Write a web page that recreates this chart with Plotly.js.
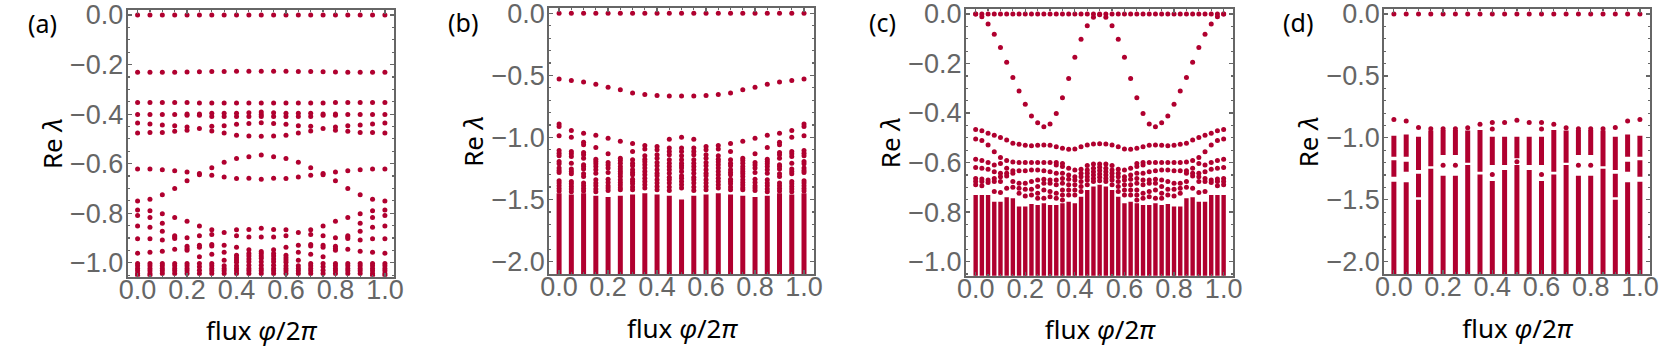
<!DOCTYPE html>
<html>
<head>
<meta charset="utf-8">
<script src="https://cdn.plot.ly/plotly-3.0.1.min.js"></script>
<style>html,body{margin:0;padding:0;background:#fff;}#plot{width:1661px;height:354px;}</style>
</head>
<body>
<div id="plot"></div>
<script>
// ---------- flux values ----------
const flux21 = [0,0.05,0.1,0.15,0.2,0.25,0.3,0.35,0.4,0.45,0.5,0.55,0.6,0.65,0.7,0.75,0.8,0.85,0.9,0.95,1];
const flux41 = [0,0.025,0.05,0.075,0.1,0.125,0.15,0.175,0.2,0.225,0.25,0.275,0.3,0.325,0.35,0.375,0.4,0.425,0.45,0.475,0.5,0.525,0.55,0.575,0.6,0.625,0.65,0.675,0.7,0.725,0.75,0.775,0.8,0.825,0.85,0.875,0.9,0.925,0.95,0.975,1];

// ---------- panel (a) ----------
const a_row0 = [0,0,0,0,0,0,0,0,0,0,0,0,0,0,0,0,0,0,0,0,0];
const a_row1 = [-0.231,-0.231,-0.231,-0.231,-0.23,-0.229,-0.228,-0.228,-0.227,-0.227,-0.227,-0.227,-0.227,-0.228,-0.228,-0.229,-0.23,-0.231,-0.231,-0.231,-0.231];
const a_cols = [
 [-0.353,-0.402,-0.436,-0.476,-0.621,-0.751,-0.787,-0.809,-0.851,-0.903,-0.961,-1.003,-1.012,-1.023,-1.032,-1.043,-1.05],
 [-0.353,-0.402,-0.44,-0.474,-0.621,-0.744,-0.79,-0.817,-0.856,-0.903,-0.957,-1.003,-1.012,-1.023,-1.032,-1.043,-1.05],
 [-0.353,-0.402,-0.444,-0.474,-0.625,-0.725,-0.802,-0.84,-0.873,-0.908,-0.953,-1.003,-1.012,-1.023,-1.032,-1.043],
 [-0.353,-0.402,-0.447,-0.469,-0.629,-0.7,-0.817,-0.891,-0.896,-0.902,-0.945,-1.003,-1.012,-1.023,-1.032,-1.043],
 [-0.353,-0.4,-0.405,-0.452,-0.465,-0.634,-0.669,-0.832,-0.899,-0.933,-0.942,-0.949,-1.003,-1.012,-1.023,-1.032,-1.043],
 [-0.355,-0.4,-0.405,-0.458,-0.64,-0.645,-0.851,-0.891,-0.929,-0.937,-0.976,-1.003,-1.016,-1.03,-1.043],
 [-0.355,-0.397,-0.41,-0.449,-0.468,-0.616,-0.647,-0.867,-0.886,-0.926,-0.932,-0.965,-1.003,-1.012,-1.023,-1.032,-1.043],
 [-0.355,-0.397,-0.41,-0.447,-0.476,-0.594,-0.654,-0.878,-0.929,-0.957,-0.99,-1.012,-1.023,-1.032,-1.043],
 [-0.355,-0.397,-0.41,-0.441,-0.485,-0.579,-0.66,-0.867,-0.891,-0.937,-0.969,-0.98,-0.989,-0.998,-1.012,-1.023,-1.032,-1.043],
 [-0.355,-0.395,-0.41,-0.438,-0.488,-0.572,-0.659,-0.866,-0.896,-0.947,-0.962,-0.972,-0.985,-0.996,-1.01,-1.023,-1.032,-1.043],
 [-0.355,-0.392,-0.402,-0.41,-0.435,-0.489,-0.565,-0.663,-0.861,-0.896,-0.954,-0.962,-0.972,-0.982,-0.996,-1.01,-1.023,-1.032,-1.043],
 [-0.355,-0.395,-0.41,-0.438,-0.488,-0.572,-0.659,-0.866,-0.896,-0.947,-0.962,-0.972,-0.985,-0.996,-1.01,-1.023,-1.032,-1.043],
 [-0.355,-0.397,-0.41,-0.441,-0.485,-0.579,-0.66,-0.867,-0.891,-0.937,-0.969,-0.98,-0.989,-0.998,-1.012,-1.023,-1.032,-1.043],
 [-0.355,-0.397,-0.41,-0.447,-0.476,-0.594,-0.654,-0.878,-0.929,-0.957,-0.99,-1.012,-1.023,-1.032,-1.043],
 [-0.355,-0.397,-0.41,-0.449,-0.468,-0.616,-0.647,-0.867,-0.886,-0.926,-0.932,-0.965,-1.003,-1.012,-1.023,-1.032,-1.043],
 [-0.355,-0.4,-0.405,-0.458,-0.64,-0.645,-0.851,-0.891,-0.929,-0.937,-0.976,-1.003,-1.016,-1.03,-1.043],
 [-0.353,-0.4,-0.405,-0.452,-0.465,-0.634,-0.669,-0.832,-0.899,-0.933,-0.942,-0.949,-1.003,-1.012,-1.023,-1.032,-1.043],
 [-0.353,-0.402,-0.447,-0.469,-0.629,-0.7,-0.817,-0.891,-0.896,-0.902,-0.945,-1.003,-1.012,-1.023,-1.032,-1.043],
 [-0.353,-0.402,-0.444,-0.474,-0.625,-0.725,-0.802,-0.84,-0.873,-0.908,-0.953,-1.003,-1.012,-1.023,-1.032,-1.043],
 [-0.353,-0.402,-0.44,-0.474,-0.621,-0.744,-0.79,-0.817,-0.856,-0.903,-0.957,-1.003,-1.012,-1.023,-1.032,-1.043,-1.05],
 [-0.353,-0.402,-0.436,-0.476,-0.621,-0.751,-0.787,-0.809,-0.851,-0.903,-0.961,-1.003,-1.012,-1.023,-1.032,-1.043,-1.05]
];

// ---------- panel (b) ----------
const b_row0 = [0,0,0,0,0,0,0,0,0,0,0,0,0,0,0,0,0,0,0,0,0];
const b_row1 = [-0.529,-0.542,-0.553,-0.572,-0.596,-0.617,-0.642,-0.655,-0.663,-0.666,-0.666,-0.666,-0.663,-0.655,-0.642,-0.617,-0.596,-0.572,-0.553,-0.542,-0.529];
const b_cols = [
 [-0.891,-0.912,-0.987,-1.105,-1.127,-1.148,-1.194,-1.212,-1.247,-1.266,-1.282,-1.349,-1.368,-1.389,-1.411,-1.432],
 [-0.944,-0.998,-1.113,-1.132,-1.153,-1.207,-1.255,-1.274,-1.293,-1.355,-1.373,-1.395,-1.416,-1.438],
 [-0.966,-1.038,-1.06,-1.121,-1.14,-1.167,-1.22,-1.234,-1.255,-1.293,-1.314,-1.368,-1.389,-1.411,-1.432],
 [-0.982,-1.081,-1.175,-1.194,-1.212,-1.234,-1.261,-1.288,-1.341,-1.368,-1.389,-1.416,-1.438],
 [-1.006,-1.132,-1.202,-1.223,-1.247,-1.282,-1.336,-1.363,-1.389,-1.408,-1.427],
 [-1.03,-1.167,-1.186,-1.207,-1.234,-1.255,-1.274,-1.293,-1.314,-1.341,-1.363,-1.384,-1.406,-1.422],
 [-1.049,-1.113,-1.18,-1.207,-1.228,-1.261,-1.282,-1.301,-1.336,-1.355,-1.373,-1.4,-1.422],
 [-1.065,-1.094,-1.148,-1.175,-1.196,-1.22,-1.247,-1.274,-1.301,-1.328,-1.355,-1.381,-1.408],
 [-1.073,-1.1,-1.14,-1.167,-1.202,-1.228,-1.261,-1.288,-1.309,-1.341,-1.368,-1.395,-1.422],
 [-1.014,-1.086,-1.113,-1.14,-1.18,-1.207,-1.234,-1.261,-1.288,-1.32,-1.341,-1.368,-1.4,-1.427],
 [-0.998,-1.086,-1.113,-1.148,-1.18,-1.207,-1.228,-1.247,-1.274,-1.309,-1.328,-1.355,-1.381,-1.408],
 [-1.014,-1.086,-1.113,-1.14,-1.18,-1.207,-1.234,-1.261,-1.288,-1.32,-1.341,-1.368,-1.4,-1.427],
 [-1.073,-1.1,-1.14,-1.167,-1.202,-1.228,-1.261,-1.288,-1.309,-1.341,-1.368,-1.395,-1.422],
 [-1.065,-1.094,-1.148,-1.175,-1.196,-1.22,-1.247,-1.274,-1.301,-1.328,-1.355,-1.381,-1.408],
 [-1.049,-1.113,-1.18,-1.207,-1.228,-1.261,-1.282,-1.301,-1.336,-1.355,-1.373,-1.4,-1.422],
 [-1.03,-1.167,-1.186,-1.207,-1.234,-1.255,-1.274,-1.293,-1.314,-1.341,-1.363,-1.384,-1.406,-1.422],
 [-1.006,-1.132,-1.202,-1.223,-1.247,-1.282,-1.336,-1.363,-1.389,-1.408,-1.427],
 [-0.982,-1.081,-1.175,-1.194,-1.212,-1.234,-1.261,-1.288,-1.341,-1.368,-1.389,-1.416,-1.438],
 [-0.966,-1.038,-1.06,-1.121,-1.14,-1.167,-1.22,-1.234,-1.255,-1.293,-1.314,-1.368,-1.389,-1.411,-1.432],
 [-0.944,-0.998,-1.113,-1.132,-1.153,-1.207,-1.255,-1.274,-1.293,-1.355,-1.373,-1.395,-1.416,-1.438],
 [-0.891,-0.912,-0.987,-1.105,-1.127,-1.148,-1.194,-1.212,-1.247,-1.266,-1.282,-1.349,-1.368,-1.389,-1.411,-1.432]
];
const b_solidTop = [-1.45,-1.46,-1.45,-1.47,-1.48,-1.47,-1.46,-1.45,-1.46,-1.47,-1.5,-1.47,-1.46,-1.45,-1.46,-1.47,-1.48,-1.47,-1.45,-1.46,-1.45];
const b_solidBottom = -2.1;

// ---------- panel (c) ----------
const c_row0 = [0,0,0,0,0,0,0,0,0,0,0,0,0,0,0,0,0,0,0,0,0,0,0,0,0,0,0,0,0,0,0,0,0,0,0,0,0,0,0,0,0];
const c_rowV = [0,-0.011,-0.04,-0.082,-0.135,-0.195,-0.256,-0.311,-0.365,-0.412,-0.439,-0.455,-0.444,-0.402,-0.338,-0.26,-0.175,-0.102,-0.047,-0.013,-0.003,-0.013,-0.047,-0.102,-0.175,-0.26,-0.338,-0.402,-0.444,-0.455,-0.439,-0.412,-0.365,-0.311,-0.256,-0.195,-0.135,-0.082,-0.04,-0.011,0];
const c_rowA = [-0.466,-0.472,-0.482,-0.49,-0.499,-0.509,-0.522,-0.526,-0.53,-0.532,-0.53,-0.529,-0.53,-0.536,-0.542,-0.546,-0.545,-0.536,-0.529,-0.525,-0.524,-0.525,-0.529,-0.536,-0.545,-0.546,-0.542,-0.536,-0.53,-0.529,-0.53,-0.532,-0.53,-0.526,-0.522,-0.509,-0.499,-0.49,-0.482,-0.472,-0.466];
const c_rowB = [-0.505,-0.511,-0.529,-0.556,-0.58,-0.592,-0.598,-0.6,-0.6,-0.6,-0.6,-0.6,-0.6,-0.6,-0.604,-0.623,-0.63,-0.627,-0.612,-0.606,-0.606,-0.606,-0.612,-0.627,-0.63,-0.623,-0.604,-0.6,-0.6,-0.6,-0.6,-0.6,-0.6,-0.6,-0.598,-0.592,-0.58,-0.556,-0.529,-0.511,-0.505];
const c_cols = [
 [-0.587,-0.62,-0.664,-0.677,-0.69],
 [-0.592,-0.623,-0.666,-0.677,-0.694],
 [-0.6,-0.627,-0.67,-0.681],
 [-0.61,-0.637,-0.664,-0.677,-0.717],
 [-0.604,-0.643,-0.657,-0.677,-0.721],
 [-0.623,-0.643,-0.654,-0.704],
 [-0.633,-0.643,-0.677,-0.7],
 [-0.633,-0.684,-0.704,-0.724],
 [-0.633,-0.684,-0.708,-0.735],
 [-0.63,-0.677,-0.708,-0.731],
 [-0.63,-0.67,-0.697,-0.724,-0.744],
 [-0.633,-0.667,-0.684,-0.711,-0.744],
 [-0.637,-0.67,-0.684,-0.717,-0.738],
 [-0.61,-0.643,-0.67,-0.69,-0.724,-0.744],
 [-0.616,-0.643,-0.664,-0.684,-0.711,-0.731,-0.751],
 [-0.65,-0.667,-0.69,-0.711,-0.731],
 [-0.657,-0.67,-0.69,-0.711,-0.731],
 [-0.643,-0.657,-0.677,-0.697,-0.717],
 [-0.63,-0.643,-0.657,-0.67,-0.69],
 [-0.623,-0.637,-0.65,-0.664,-0.677],
 [-0.619,-0.632,-0.646,-0.659,-0.673],
 [-0.623,-0.637,-0.65,-0.664,-0.677],
 [-0.63,-0.643,-0.657,-0.67,-0.69],
 [-0.643,-0.657,-0.677,-0.697,-0.717],
 [-0.657,-0.67,-0.69,-0.711,-0.731],
 [-0.65,-0.667,-0.69,-0.711,-0.731],
 [-0.616,-0.643,-0.664,-0.684,-0.711,-0.731,-0.751],
 [-0.61,-0.643,-0.67,-0.69,-0.724,-0.744],
 [-0.637,-0.67,-0.684,-0.717,-0.738],
 [-0.633,-0.667,-0.684,-0.711,-0.744],
 [-0.63,-0.67,-0.697,-0.724,-0.744],
 [-0.63,-0.677,-0.708,-0.731],
 [-0.633,-0.684,-0.708,-0.735],
 [-0.633,-0.684,-0.704,-0.724],
 [-0.633,-0.643,-0.677,-0.7],
 [-0.623,-0.643,-0.654,-0.704],
 [-0.604,-0.643,-0.657,-0.677,-0.721],
 [-0.61,-0.637,-0.664,-0.677,-0.717],
 [-0.6,-0.627,-0.67,-0.681],
 [-0.592,-0.623,-0.666,-0.677,-0.694],
 [-0.587,-0.62,-0.664,-0.677,-0.69]
];
const c_solidTop = [-0.731,-0.731,-0.731,-0.758,-0.758,-0.74,-0.744,-0.778,-0.778,-0.767,-0.771,-0.764,-0.771,-0.771,-0.764,-0.758,-0.764,-0.738,-0.711,-0.697,-0.69,-0.697,-0.711,-0.738,-0.764,-0.758,-0.764,-0.771,-0.771,-0.764,-0.771,-0.767,-0.778,-0.778,-0.744,-0.74,-0.758,-0.758,-0.731,-0.731,-0.731];
const c_solidBottom = -1.06;

// ---------- panel (d) ----------
const d_row0 = [0,0,0,0,0,0,0,0,0,0,0,0,0,0,0,0,0,0,0,0,0];
const d_top = [-0.851,-0.864,-0.916,-0.926,-0.926,-0.926,-0.918,-0.891,-0.875,-0.875,-0.857,-0.875,-0.875,-0.891,-0.918,-0.926,-0.926,-0.926,-0.916,-0.864,-0.851];
const d_cols = [[],[],[],[],[-1.222],[-1.222],[],[],[-0.929,-1.295],[],[-1.192],[],[-0.929,-1.295],[],[],[-1.222],[-1.222],[],[],[],[]];
const d_segs = [
 [[-0.982,-1.152],[-1.18,-1.313],[-1.354,-2.1]],
 [[-0.972,-1.152],[-1.192,-1.273],[-1.359,-2.1]],
 [[-0.99,-1.26],[-1.29,-1.48],[-1.5,-2.1]],
 [[-0.94,-1.23],[-1.25,-2.1]],
 [[-0.937,-1.138],[-1.305,-2.1]],
 [[-0.937,-1.138],[-1.305,-2.1]],
 [[-0.94,-1.2],[-1.22,-2.1]],
 [[-0.937,-1.273],[-1.295,-2.1]],
 [[-0.99,-1.219],[-1.348,-2.1]],
 [[-0.99,-1.219],[-1.26,-2.1]],
 [[-0.99,-1.165],[-1.219,-2.1]],
 [[-0.99,-1.219],[-1.26,-2.1]],
 [[-0.99,-1.219],[-1.348,-2.1]],
 [[-0.937,-1.273],[-1.295,-2.1]],
 [[-0.94,-1.2],[-1.22,-2.1]],
 [[-0.937,-1.138],[-1.305,-2.1]],
 [[-0.937,-1.138],[-1.305,-2.1]],
 [[-0.94,-1.23],[-1.25,-2.1]],
 [[-0.99,-1.26],[-1.29,-1.48],[-1.5,-2.1]],
 [[-0.972,-1.152],[-1.192,-1.273],[-1.359,-2.1]],
 [[-0.982,-1.152],[-1.18,-1.313],[-1.354,-2.1]]
];

// ---------- styles ----------
const RED = '#b0002f';
const MS = 5;
const FRAME = '#666666';
const TICKCOL = '#666666';

// ---------- trace builders ----------
function rowsTrace(xs, rows, xa, ya) {
  const X = [], Y = [];
  rows.forEach(r => r.forEach((v, i) => { X.push(xs[i]); Y.push(v); }));
  return {type:'scatter', mode:'markers', x:X, y:Y, xaxis:xa, yaxis:ya,
          marker:{color:RED, size:MS}, hoverinfo:'skip', cliponaxis:true};
}
function colsTrace(xs, cols, xa, ya) {
  const X = [], Y = [];
  cols.forEach((c, i) => c.forEach(v => { X.push(xs[i]); Y.push(v); }));
  return {type:'scatter', mode:'markers', x:X, y:Y, xaxis:xa, yaxis:ya,
          marker:{color:RED, size:MS}, hoverinfo:'skip', cliponaxis:true};
}
function segTrace(xs, segs, xa, ya, w) {
  const X = [], Y = [];
  segs.forEach((list, i) => list.forEach(s => { X.push(xs[i], xs[i], null); Y.push(s[0], s[1], null); }));
  return {type:'scatter', mode:'lines', x:X, y:Y, xaxis:xa, yaxis:ya,
          line:{color:RED, width:w}, hoverinfo:'skip', connectgaps:false};
}
function solidSegs(tops, bottom) { return tops.map(t => [[t, bottom]]); }

const traces = [
  rowsTrace(flux21, [a_row0, a_row1], 'x', 'y'),
  colsTrace(flux21, a_cols, 'x', 'y'),

  rowsTrace(flux21, [b_row0, b_row1], 'x2', 'y2'),
  colsTrace(flux21, b_cols, 'x2', 'y2'),
  segTrace(flux21, solidSegs(b_solidTop, b_solidBottom), 'x2', 'y2', 5),

  rowsTrace(flux41, [c_row0, c_rowV, c_rowA, c_rowB], 'x3', 'y3'),
  colsTrace(flux41, c_cols, 'x3', 'y3'),
  segTrace(flux41, solidSegs(c_solidTop, c_solidBottom), 'x3', 'y3', 4.4),

  rowsTrace(flux21, [d_row0, d_top], 'x4', 'y4'),
  colsTrace(flux21, d_cols, 'x4', 'y4'),
  segTrace(flux21, d_segs, 'x4', 'y4', 5)
];

// ---------- axes ----------
const W = 1661, H = 354;
const TICKFONT = {family:'Liberation Sans, Arial, sans-serif', size:27, color:TICKCOL};
const TITLEFONT = {family:'Noto Sans, sans-serif', size:26, color:'#000'};
function xAxis(px0, px1, range, anchor) {
  return {domain:[px0/W, px1/W], range:range, anchor:anchor,
    tickmode:'linear', tick0:0, dtick:0.2, tickformat:'.1f',
    showline:true, linecolor:FRAME, linewidth:2, mirror:'ticks',
    ticks:'inside', ticklen:4, tickwidth:1.2, tickcolor:FRAME,
    minor:{ticks:'inside', ticklen:2, tickcolor:FRAME, dtick:0.05},
    showgrid:false, zeroline:false, tickfont:TICKFONT, ticklabelstandoff:-12, ticklabeloverflow:'allow',
    title:{text:'flux <i>φ</i>/2<i>π</i>', font:TITLEFONT, standoff:18}, fixedrange:true};
}
function yAxis(py0, py1, range, dt, minorD, anchor) {
  return {domain:[1-py1/H, 1-py0/H], range:range, anchor:anchor,
    tickmode:'linear', tick0:0, dtick:dt, tickformat:'.1f',
    showline:true, linecolor:FRAME, linewidth:2, mirror:'ticks',
    ticks:'inside', ticklen:4, tickwidth:1.2, tickcolor:FRAME,
    minor:{ticks:'inside', ticklen:2, tickcolor:FRAME, dtick:minorD},
    showgrid:false, zeroline:false, tickfont:TICKFONT, ticklabelstandoff:-3, ticklabeloverflow:'allow',
    title:{text:'Re <i>λ</i>', font:TITLEFONT, standoff:0}, fixedrange:true};
}

const layout = {
  width:W, height:H, margin:{l:0,r:0,t:0,b:0},
  paper_bgcolor:'#fff', plot_bgcolor:'#fff', showlegend:false,
  xaxis:  xAxis(127.7, 394.3, [-0.04, 1.038], 'y'),
  yaxis:  yAxis(10, 276.7, [-1.056, 0.02], 0.2, 0.05, 'x'),
  xaxis2: xAxis(549.3, 814.3, [-0.04, 1.042], 'y2'),
  yaxis2: yAxis(8.3, 274, [-2.1, 0.04], 0.5, 0.1, 'x2'),
  xaxis3: xAxis(966, 1233.3, [-0.039, 1.039], 'y3'),
  yaxis3: yAxis(9.3, 275.7, [-1.057, 0.019], 0.2, 0.05, 'x3'),
  xaxis4: xAxis(1384.3, 1650, [-0.039, 1.041], 'y4'),
  yaxis4: yAxis(9.3, 274, [-2.099, 0.038], 0.5, 0.1, 'x4'),
  annotations: [
    {text:'(a)', x:42/W, y:1-23/H},
    {text:'(b)', x:463/W, y:1-22/H},
    {text:'(c)', x:882/W, y:1-22/H},
    {text:'(d)', x:1298/W, y:1-22/H}
  ].map(a => Object.assign({xref:'paper', yref:'paper', showarrow:false, xanchor:'center', yanchor:'middle',
       font:{family:'Noto Sans, sans-serif', size:25, color:'#000'}}, a))
};

Plotly.newPlot('plot', traces, layout, {staticPlot:true, displayModeBar:false});
</script>
</body>
</html>
